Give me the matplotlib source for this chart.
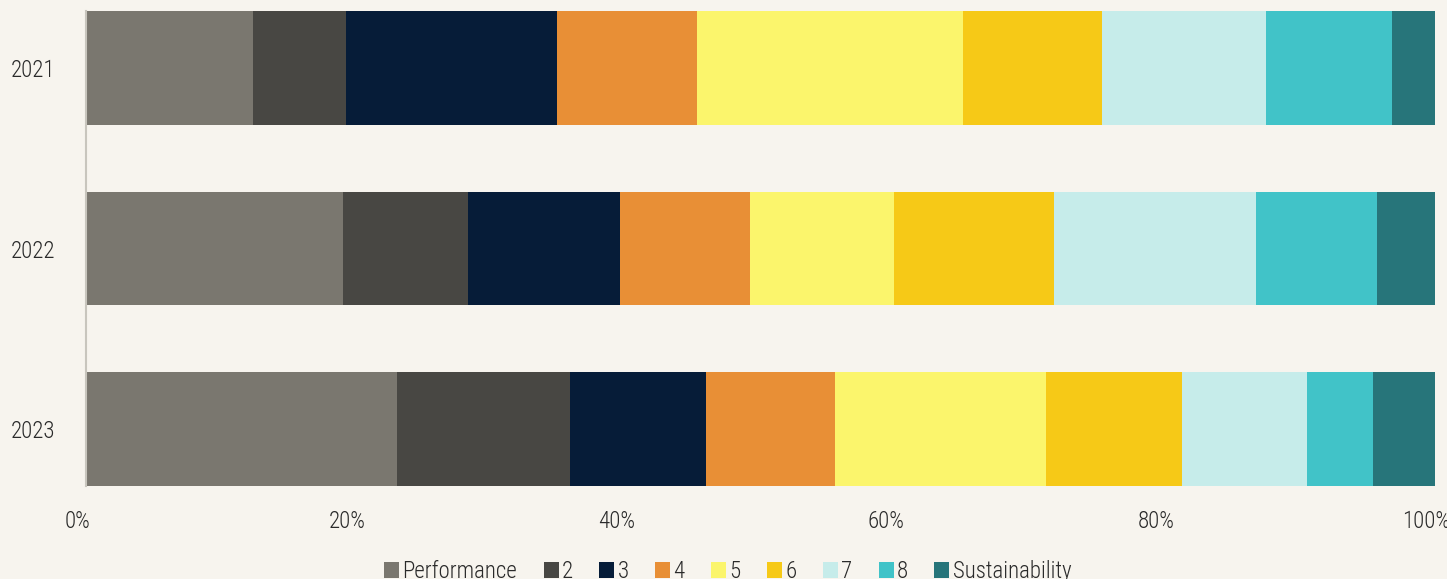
import matplotlib
matplotlib.use("Agg")
import matplotlib.pyplot as plt
import matplotlib.transforms as mtransforms
from matplotlib.patches import Patch
from matplotlib.ticker import FuncFormatter

years = ["2021", "2022", "2023"]
series_names = ["Performance", "2", "3", "4", "5", "6", "7", "8", "Sustainability"]
v_performance = [12.4, 19.1, 23.1]
v_2 = [6.9, 9.3, 12.8]
v_3 = [15.6, 11.3, 10.1]
v_4 = [10.4, 9.6, 9.6]
v_5 = [19.7, 10.7, 15.6]
v_6 = [10.3, 11.9, 10.1]
v_7 = [12.2, 15.0, 9.3]
v_8 = [9.3, 9.0, 4.9]
v_sust = [3.2, 4.3, 4.6]
all_series = [v_performance, v_2, v_3, v_4, v_5, v_6, v_7, v_8, v_sust]
colors = ["#7a776f", "#484743", "#061c38", "#e88f36", "#fbf56c",
          "#f6c917", "#c6ecea", "#41c3c8", "#27757a"]

bg = "#f7f4ee"
plt.rcParams['font.family'] = ['Roboto Condensed', 'Sofia Sans Condensed', 'DejaVu Sans']
plt.rcParams['font.weight'] = 300

fig = plt.figure(figsize=(14.47, 5.79), dpi=100, facecolor=bg)
ax = fig.add_axes([86/1447, 1 - 486/579, (1435-86)/1447, (486-11)/579])
ax.set_facecolor(bg)

ypos = list(range(len(years)))
left = [0.0] * len(years)
tot = [sum(s[i] for s in all_series) for i in range(len(years))]
for vals, col in zip(all_series, colors):
    pct = [vals[i] / tot[i] * 100 for i in range(len(years))]
    ax.barh(ypos, pct, left=left, height=0.63, color=col, edgecolor='none')
    left = [left[i] + pct[i] for i in range(len(years))]

ax.set_yticks(ypos)
ax.set_yticklabels(years)
ax.set_ylim(2.315, -0.315)
ax.set_xlim(0, 100)
ax.set_xticks([0, 20, 40, 60, 80, 100])
ax.xaxis.set_major_formatter(FuncFormatter(lambda x, p: f"{int(x)}%"))
ax.tick_params(axis='both', length=0, labelsize=16.5, colors="#2a2a2a")
ax.tick_params(axis='x', pad=17)
ax.tick_params(axis='y', pad=22)
shift = mtransforms.ScaledTranslation(-0.09, 0, fig.dpi_scale_trans)
for lbl in ax.get_xticklabels():
    lbl.set_transform(lbl.get_transform() + shift)
for s in ['top', 'right', 'bottom']:
    ax.spines[s].set_visible(False)
ax.spines['left'].set_color("#c8c5bd")
ax.spines['left'].set_linewidth(1.5)

handles = [Patch(facecolor=c, edgecolor='none') for c in colors]
fig.legend(handles, series_names, loc='center', bbox_to_anchor=(0.503, 0.013),
           ncol=9, frameon=False, fontsize=16.5, handlelength=0.65, handleheight=0.65,
           handletextpad=0.15, columnspacing=1.15, labelcolor="#2a2a2a")

fig.savefig("out.png", dpi=100, facecolor=bg)
